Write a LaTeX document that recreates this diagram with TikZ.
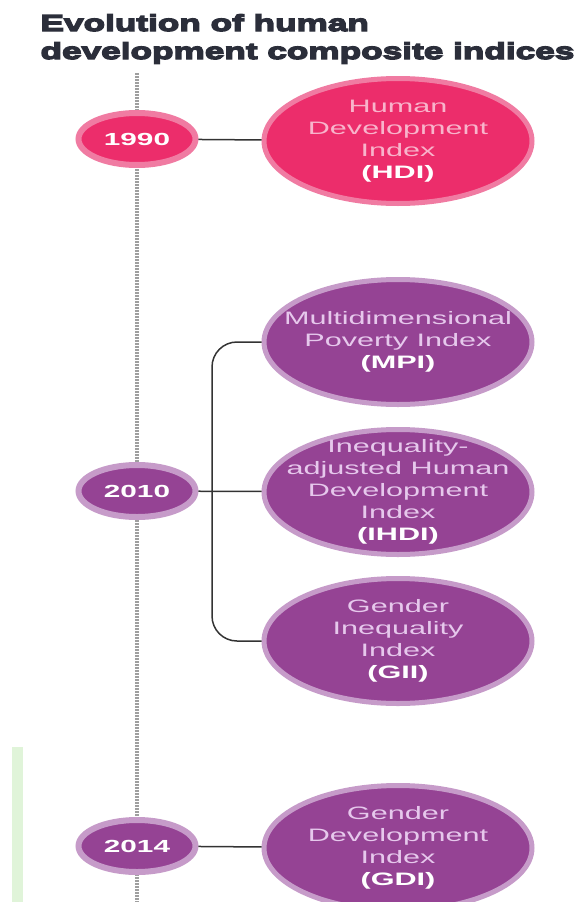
\documentclass[tikz,border=0pt]{standalone}
\usepackage{fontspec}
\usetikzlibrary{shapes.geometric,calc}

\newfontfamily\idxfont{Liberation Sans}[FakeStretch=1.7]
\newfontfamily\titlefont{Liberation Sans Bold}[FakeStretch=1.53,FakeBold=6]

\definecolor{hdipink}{HTML}{EC2D6B}
\definecolor{hdiring}{HTML}{F07BA2}
\definecolor{hditext}{HTML}{F8B4CB}
\definecolor{plum}{HTML}{954394}
\definecolor{plumring}{HTML}{C69BC9}
\definecolor{plumtext}{HTML}{E6C8EC}
\definecolor{titlegray}{HTML}{2B2E3A}
\definecolor{bargreen}{HTML}{E0F4D9}

\tikzset{
	year/.style={ellipse, inner xsep=-30pt, inner ysep=-10pt, minimum width=117pt, minimum height=52pt,
		line width=6pt, text=white, font=\idxfont\bfseries\fontsize{17.5}{20}\selectfont},
	index/.style={ellipse, inner xsep=-80pt, inner ysep=-40pt, align=center, minimum width=268pt,
		minimum height=125pt, line width=5pt, font=\idxfont\fontsize{18}{22}\selectfont},
	link/.style={draw=black!80, line width=1.5pt},
	heading/.style={anchor=base west, text=titlegray, font=\titlefont\fontsize{23}{28}\selectfont}
}

\begin{document}
\begin{tikzpicture}[x=1pt,y=-1pt]
			\useasboundingbox (0,0) rectangle (577,902);
			\def \tlx {137}
			\def \idx {398}
			\def \brx {212}
			
			%title
			\node[heading] (title1) at (37,31) {Evolution of human};
			\node[heading] (title2) at (37,59) {development composite indices};
			
			%green bar at the left
			\fill[bargreen] (12,747) rectangle (23,902);
			
			%timeline
			\coordinate (tltop) at (\tlx,73);
			\coordinate (tlbot) at (\tlx,902);
			\draw[gray!75, line width=4.5pt, dash pattern=on 1.5pt off 1.5pt] (tltop) -- (tlbot);
			
			%years
			\node[year, fill=hdipink, draw=hdiring] (y1990) at (\tlx,139) {1990};
			\node[year, fill=plum, draw=plumring] (y2010) at (\tlx,491) {2010};
			\node[year, fill=plum, draw=plumring] (y2014) at (\tlx,846) {2014};
			
			%indices
			\node[index, fill=hdipink, draw=hdiring, text=hditext] (hdi) at (\idx,141)
				{Human\\Development\\Index\\\textcolor{white}{\bfseries (HDI)}};
			\node[index, fill=plum, draw=plumring, text=plumtext] (mpi) at (\idx,342)
				{Multidimensional\\Poverty Index\\\textcolor{white}{\bfseries (MPI)}};
			\node[index, fill=plum, draw=plumring, text=plumtext] (ihdi) at (\idx,492)
				{Inequality-\\adjusted Human\\Development\\Index\\\textcolor{white}{\bfseries (IHDI)}};
			\node[index, fill=plum, draw=plumring, text=plumtext] (gii) at (\idx,641)
				{Gender\\Inequality\\Index\\\textcolor{white}{\bfseries (GII)}};
			\node[index, fill=plum, draw=plumring, text=plumtext] (gdi) at (\idx,848)
				{Gender\\Development\\Index\\\textcolor{white}{\bfseries (GDI)}};
			
			%connectors
			\coordinate (brk) at (\brx,491);
			\draw[link] (y1990) -- (hdi);
			\draw[link] (y2010) -- (ihdi);
			\draw[link, rounded corners=25pt] (mpi.west) -| (brk) |- (gii.west);
			\draw[link] (y2014) -- (gdi);
\end{tikzpicture}
\end{document}
